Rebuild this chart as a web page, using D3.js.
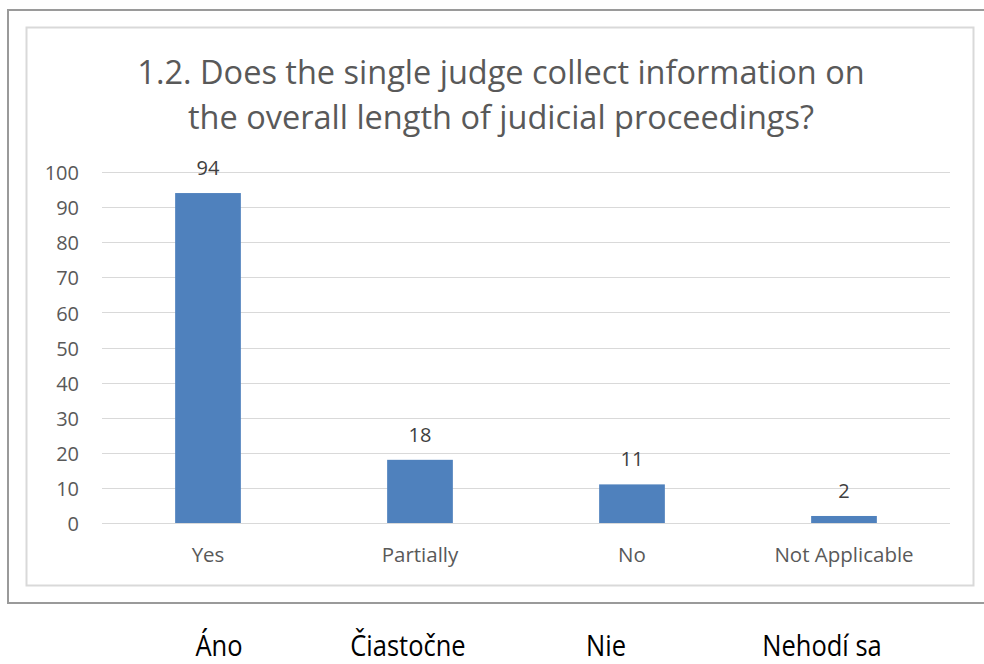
<!DOCTYPE html>
<html>
<head>
<meta charset="utf-8">
<script src="https://cdn.jsdelivr.net/npm/d3@7"></script>
<style>
  html, body { margin: 0; padding: 0; background: #fff; }
  svg { display: block; }
</style>
</head>
<body>
<svg id="chart" width="984" height="664"></svg>
<script>
const categories = ["Yes", "Partially", "No", "Not Applicable"];
const values = [94, 18, 11, 2];
const yTicks = [0, 10, 20, 30, 40, 50, 60, 70, 80, 90, 100];
const titleLines = ["1.2. Does the single judge collect information on", "the overall length of judicial proceedings?"];
const slovakLabels = ["Áno", "Čiastočne", "Nie", "Nehodí sa"];

(function () {
const svg = d3.select("#chart");
const font = "'Open Sans', Lato, sans-serif";

// outer frame (page border)
svg.append("path")
  .attr("d", "M984,10 H8 V603 H984")
  .attr("fill", "none").attr("stroke", "#9a9a9a").attr("stroke-width", 2);

// chart area box
svg.append("rect")
  .attr("x", 26.5).attr("y", 27.5).attr("width", 947).attr("height", 558)
  .attr("fill", "#fff").attr("stroke", "#d9d9d9").attr("stroke-width", 2);

// title
svg.append("g").selectAll("text").data(titleLines).join("text")
  .attr("x", 501).attr("y", (d, i) => 84 + i * 45)
  .attr("text-anchor", "middle")
  .attr("font-family", font).attr("font-size", 32.5)
  .attr("fill", "#595959")
  .text(d => d);

const pLeft = 102, pRight = 950, pTop = 172, pBottom = 523;
const x = d3.scaleBand().domain(categories).range([pLeft, pRight]).paddingInner(0.69).paddingOuter(0.345);
const y = d3.scaleLinear().domain([0, 100]).range([pBottom, pTop]);

// gridlines
svg.append("g").selectAll("line").data(yTicks).join("line")
  .attr("x1", pLeft).attr("x2", pRight)
  .attr("y1", d => Math.round(y(d)) + 0.5).attr("y2", d => Math.round(y(d)) + 0.5)
  .attr("stroke", "#d9d9d9").attr("stroke-width", 1);

// y axis labels
const yAxis = d3.axisLeft(y).tickValues(yTicks).tickSize(0).tickPadding(0);
const ya = svg.append("g").attr("transform", `translate(79,0)`).call(yAxis);
ya.select(".domain").remove();
ya.selectAll("text").attr("dy", "0.38em").attr("font-family", font).attr("font-size", 20).attr("fill", "#595959");

// bars
svg.append("g").selectAll("rect").data(values).join("rect")
  .attr("x", (d, i) => x(categories[i]))
  .attr("y", d => y(d))
  .attr("width", x.bandwidth())
  .attr("height", d => y(0) - y(d))
  .attr("fill", "#4f81bd");

// value labels
svg.append("g").selectAll("text").data(values).join("text")
  .attr("x", (d, i) => x(categories[i]) + x.bandwidth() / 2)
  .attr("y", d => y(d) - 18)
  .attr("text-anchor", "middle")
  .attr("font-family", font).attr("font-size", 20)
  .attr("fill", "#404040")
  .text(d => d);

// x axis labels
const xAxis = d3.axisBottom(x).tickSize(0).tickPadding(0);
const xa = svg.append("g").attr("transform", `translate(0,${pBottom})`).call(xAxis);
xa.select(".domain").remove();
xa.selectAll("text").attr("dy", null).attr("y", 39).attr("font-family", font).attr("font-size", 20.5).attr("fill", "#595959");

// Slovak labels below the chart
const xs = d3.scaleLinear().domain([0, 1, 2, 3]).range([219, 408, 606, 822]);
const sx = 0.85;
svg.append("g").attr("transform", `scale(${sx},1)`)
  .selectAll("text").data(slovakLabels).join("text")
  .attr("x", (d, i) => xs(i) / sx).attr("y", 656)
  .attr("text-anchor", "middle")
  .attr("font-family", "'Liberation Sans Narrow', 'Open Sans', sans-serif").attr("font-size", 30)
  .attr("fill", "#000")
  .text(d => d);
})();
</script>
</body>
</html>
